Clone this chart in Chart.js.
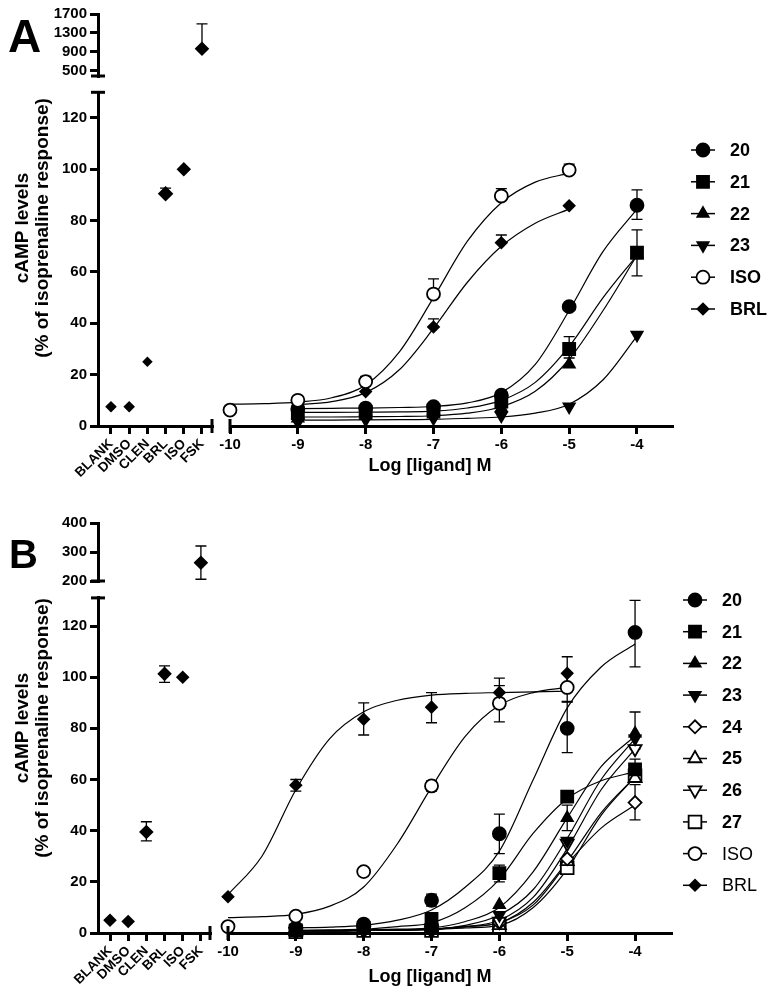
<!DOCTYPE html>
<html lang="en">
<head>
<meta charset="UTF-8">
<title>cAMP levels – compounds 20-27</title>
<script src="https://cdn.jsdelivr.net/npm/chart.js"></script>
<style>
    body { margin: 0; background: #fff; font-family: "Liberation Sans", Arial, sans-serif; }
    #wrap { position: relative; width: 772px; height: 1005px; overflow: hidden; }
    #wrap canvas { position: absolute; left: 0; top: 0; }
    .letter { position: absolute; font-weight: bold; line-height: 1; }
    .ytitle {
        position: absolute; font-weight: bold; font-size: 19px; line-height: 20px;
        text-align: center; white-space: nowrap;
        transform: translate(-50%, -50%) rotate(-90deg);
    }
    .xtitle { position: absolute; font-weight: bold; font-size: 18px; white-space: nowrap; transform: translateX(-50%); }
</style>
</head>
<body>
<div id="wrap">
    <canvas id="a1" width="772" height="1005"></canvas>
    <canvas id="a2" width="772" height="1005"></canvas>
    <canvas id="a3" width="772" height="1005"></canvas>
    <canvas id="b1" width="772" height="1005"></canvas>
    <canvas id="b2" width="772" height="1005"></canvas>
    <canvas id="b3" width="772" height="1005"></canvas>

    <div class="letter" style="left:8px;top:13px;font-size:46px">A</div>
    <div class="letter" style="left:9px;top:534px;font-size:40px">B</div>
    <div class="ytitle" style="left:32px;top:228px">cAMP levels<br>(% of isoprenaline response)</div>
    <div class="ytitle" style="left:32px;top:728px">cAMP levels<br>(% of isoprenaline response)</div>
    <div class="xtitle" style="left:430px;top:455px">Log [ligand] M</div>
    <div class="xtitle" style="left:430px;top:966px">Log [ligand] M</div>
</div>

<script>
// ---- shared axes ----
const catLabels = ['BLANK', 'DMSO', 'CLEN', 'BRL', 'ISO', 'FSK'];
const doses = [-10, -9, -8, -7, -6, -5, -4];
const curveX = [-10, -9.5, -9, -8.5, -8, -7.5, -7, -6.5, -6, -5.5, -5, -4.5, -4];
const lowerTicks = [0, 20, 40, 60, 80, 100, 120];

// ---- panel A ----
const aCtrl = [7.5, 7.5, 25, 90.5, 100, 970];
const aCtrlErr = [null, null, null, [90.5, 92.7], null, [970, 1490]];
const aUpperTicks = [500, 900, 1300, 1700];

const a20 = [null, 6.5, 7, 7.5, 12, 46.5, 86];
const a21 = [null, 5, 5.5, 6, 9.5, 30, 67.5];
const a22 = [null, 3, 4, 4.5, 7, 24, 67];
const a23 = [null, 1.5, 2.5, 3, 4, 7.5, 35.5];
const aIso = [6.2, 10, 17.3, 51.4, 89.6, 99.7, null];
const aBrl = [null, 8, 13.4, 38.6, 71.4, 85.8, null];

const a20Err = [null, null, null, null, null, null, [80.5, 92]];
const a21Err = [null, null, null, null, null, [26.5, 34.8], [58.5, 76.4]];
const aIsoErr = [null, null, [17.3, 19.3], [51.4, 57.3], [89.6, 92.5], [99.7, 102], null];
const aBrlErr = [null, null, null, [38.6, 41.7], [71.4, 74.4], null, null];

// fitted curves, read at curveX
const a20Fit = [null, null, 6.8, 6.9, 7, 7.2, 7.6, 9, 13, 24, 45, 68, 84.5];
const a21Fit = [null, null, 5.3, 5.3, 5.4, 5.5, 5.8, 7, 10, 17, 31, 50, 66.5];
const a22Fit = [null, null, 3.5, 3.5, 3.6, 3.7, 4, 5, 7.5, 13.5, 26, 45, 66.5];
const a23Fit = [null, null, 2.3, 2.3, 2.4, 2.5, 2.6, 3, 3.5, 5, 8.5, 18, 35];
const aIsoFit = [8.5, 8.7, 9.3, 11, 16, 29, 50, 72, 87, 95, 98.5, null, null];
const aBrlFit = [null, null, 8.3, 9.5, 13, 22, 38, 56, 70, 79, 84.5, null, null];

// ---- panel B ----
const bCtrl = [5, 4.5, 39.5, 101.3, 100, 263];
const bCtrlErr = [null, null, [36, 43.5], [98, 104.4], null, [206, 320.7]];
const bUpperTicks = [200, 300, 400];

const b20 = [null, 2, 3.5, 12.8, 38.8, 80, 117.5];
const b21 = [null, 1, 2, 5.5, 23.4, 53.3, 64];
const b22 = [null, 0.5, 1, 2, 11, 45, 78];
const b23 = [null, 0.5, 1, 1.5, 7, 36, 76];
const b24 = [null, 0.5, 1, 1, 4, 29, 51];
const b25 = [null, 0.5, 1, 1, 3, 28, 60.5];
const b26 = [null, 0.5, 1, 1, 4.5, 35, 72];
const b27 = [null, 0.5, 1, 1, 2.5, 25.5, 61.5];
const bIso = [2.5, 6.6, 24, 57.5, 89.8, 96, null];
const bBrl = [14.2, 57.8, 83.6, 88.3, 94, 101.5, null];

const b20Err = [null, null, null, [10.5, 15.2], [31, 46.5], [70.5, 90.3], [104, 130]];
const b21Err = [null, null, null, null, [20, 26.5], null, [60, 68]];
const b22Err = [null, null, null, null, null, [40, 50], [72, 86.4]];
const b24Err = [null, null, null, null, null, null, [44.2, 58]];
const bIsoErr = [null, null, null, [55.5, 59.5], [82.5, 96.7], [90.5, 101.5], null];
const bBrlErr = [null, [55.5, 60], [77.4, 90], [82.2, 94], [88, 99.6], [96, 108], null];

const b20Fit = [null, null, 2, 2.3, 3, 5, 9, 18, 32, 60, 88, 104, 113];
const b21Fit = [null, null, 1, 1.2, 1.5, 2.5, 4, 10, 21, 39, 52.5, 59.5, 63];
const b22Fit = [null, null, 1, 1, 1.2, 1.5, 2, 4.5, 10, 24, 45, 65, 77];
const b23Fit = [null, null, 0.8, 0.8, 1, 1.2, 1.5, 3, 7, 17, 37, 60, 76];
const b24Fit = [null, null, 0.8, 0.8, 1, 1.2, 1.5, 2.5, 4, 11, 27, 41, 50];
const b25Fit = [null, null, 0.8, 0.8, 1, 1.2, 1.5, 2.5, 4, 12, 28, 47, 61];
const b26Fit = [null, null, 0.8, 0.8, 1, 1.2, 1.5, 2.5, 5, 14, 33, 56, 72];
const b27Fit = [null, null, 0.8, 0.8, 1, 1, 1.3, 2, 3, 10, 25, 46, 61];
const bIsoFit = [6, 6.4, 7.3, 10.5, 18, 35, 57, 77, 89, 94, 96, null, null];
const bBrlFit = [15, 30, 56, 76, 86.5, 91, 93, 93.7, 94, 94.3, 94.5, null, null];

// ---- marker styles ----
const MARK = {
    '20':  { style: 'circle',   r: 6.5, fill: '#000' },
    '21':  { style: 'rect',     r: 8.5, fill: '#000' },
    '22':  { style: 'triangle', r: 6.5, fill: '#000' },
    '23':  { style: 'triangle', r: 6.5, fill: '#000', rot: 180 },
    '24':  { style: 'rectRot',  r: 6.5, fill: '#fff' },
    '25':  { style: 'triangle', r: 7.5, fill: '#fff' },
    '26':  { style: 'triangle', r: 7.5, fill: '#fff', rot: 180 },
    '27':  { style: 'rect',     r: 9,   fill: '#fff' },
    'ISO': { style: 'circle',   r: 6.5, fill: '#fff' },
    'BRL': { style: 'rectRot',  r: 5.5, fill: '#000' }
};
const aCtrlSize = [4.5, 4.5, 4, 6.5, 6, 6];
const bCtrlSize = [5.5, 5.5, 6, 6, 5.5, 6];

Chart.defaults.font.family = '"Liberation Sans", Arial, sans-serif';
Chart.defaults.font.weight = 'bold';
Chart.defaults.color = '#000';

const errorBars = {
    id: 'errorBars',
    beforeDatasetsDraw(chart) {
        const { ctx, scales: { x, y } } = chart;
        ctx.save();
        ctx.strokeStyle = '#000';
        ctx.lineWidth = 1.3;
        chart.data.datasets.forEach(ds => {
            ds.data.forEach(p => {
                if (!p.err) return;
                const px = x.getPixelForValue(p.x);
                const lo = y.getPixelForValue(p.err[0]);
                const hi = y.getPixelForValue(p.err[1]);
                ctx.beginPath();
                ctx.moveTo(px, lo); ctx.lineTo(px, hi);
                if (p.err[0] < p.y) { ctx.moveTo(px - 5.5, lo); ctx.lineTo(px + 5.5, lo); }
                if (p.err[1] > p.y) { ctx.moveTo(px - 5.5, hi); ctx.lineTo(px + 5.5, hi); }
                ctx.stroke();
            });
        });
        ctx.restore();
    }
};

function capsPlugin(list) {
    return {
        id: 'axisCaps',
        afterDraw(chart) {
            const ctx = chart.ctx, area = chart.chartArea;
            ctx.save();
            ctx.strokeStyle = '#000';
            ctx.lineWidth = 3;
            list.forEach(c => {
                const s = chart.scales[c.scale];
                ctx.beginPath();
                if (c.scale === 'y') {
                    const py = s.getPixelForValue(c.value);
                    ctx.moveTo(area.left - 7, py); ctx.lineTo(area.left + 7, py);
                } else {
                    const px = s.getPixelForValue(c.value);
                    ctx.moveTo(px, area.bottom - 7); ctx.lineTo(px, area.bottom + 7);
                }
                ctx.stroke();
            });
            ctx.restore();
        }
    };
}

function legendPlugin(names, mx, y0, dy, tx, normal) {
    return {
        id: 'seriesLegend',
        afterDraw(chart) {
            const ctx = chart.ctx;
            names.forEach((n, i) => {
                const yy = y0 + i * dy;
                const m = MARK[n];
                ctx.save();
                ctx.strokeStyle = '#000';
                ctx.lineWidth = 1.5;
                ctx.beginPath(); ctx.moveTo(mx - 12, yy); ctx.lineTo(mx + 12, yy); ctx.stroke();
                ctx.fillStyle = m.fill;
                ctx.lineWidth = 1.8;
                Chart.helpers.drawPoint(ctx, { pointStyle: m.style, radius: m.r, rotation: m.rot || 0, borderWidth: 1.8 }, mx, yy);
                ctx.fillStyle = '#000';
                ctx.font = (normal.includes(n) ? '' : 'bold ') + '18px "Liberation Sans", Arial, sans-serif';
                ctx.textBaseline = 'middle';
                ctx.fillText(n, tx, yy + 1);
                ctx.restore();
            });
        }
    };
}

function pointsDs(name, xs, values, errs, sizes) {
    const m = MARK[name];
    const pts = xs.map((x, i) => ({ x, y: values[i], err: errs ? errs[i] : null, r: sizes ? sizes[i] : m.r }))
                  .filter(p => p.y != null);
    return {
        data: pts,
        showLine: false,
        pointStyle: m.style,
        pointRadius: pts.map(p => p.r),
        pointRotation: m.rot || 0,
        pointBackgroundColor: m.fill,
        pointBorderColor: '#000',
        pointBorderWidth: 1.8,
        clip: false,
        order: 1
    };
}

function curveDs(values) {
    return {
        data: curveX.map((x, i) => ({ x, y: values[i] })).filter(p => p.y != null),
        showLine: true,
        pointRadius: 0,
        borderColor: '#000',
        borderWidth: 1.2,
        cubicInterpolationMode: 'monotone',
        fill: false,
        clip: false,
        order: 2
    };
}

const W = 772, H = 1005;

function axisLook(extra) {
    return Object.assign({
        type: 'linear',
        border: { display: true, width: 3, color: '#000' },
        grid: { drawOnChartArea: false, drawTicks: true, tickLength: 8, lineWidth: 3, tickColor: '#000', color: '#000' }
    }, extra);
}

function makeChart(id, area, xs, ys, datasets, plugins) {
    const yW = ys.display === false ? 0 : 60;
    const xH = xs.display === false ? 0 : xs.h;
    return new Chart(document.getElementById(id), {
        type: 'scatter',
        data: { datasets },
        options: {
            responsive: false,
            animation: false,
            events: [],
            layout: { padding: { left: area.left - yW, right: W - area.right, top: area.top, bottom: H - area.bottom - xH } },
            plugins: { legend: { display: false }, tooltip: { enabled: false } },
            scales: {
                x: axisLook({
                    display: xs.display !== false,
                    min: xs.min, max: xs.max,
                    afterBuildTicks: s => { s.ticks = (xs.ticks || []).map(v => ({ value: v })); },
                    afterFit: s => { s.height = xH; },
                    ticks: Object.assign({ font: { size: 15, weight: 'bold' }, padding: 2, autoSkip: false, callback: v => String(v) }, xs.tickOpts || {})
                }),
                y: axisLook({
                    display: ys.display !== false,
                    min: ys.min, max: ys.max,
                    afterBuildTicks: s => { s.ticks = (ys.ticks || []).map(v => ({ value: v })); },
                    afterFit: s => { s.width = yW; },
                    ticks: { font: { size: ys.font || 15, weight: 'bold' }, padding: 3, autoSkip: false, callback: v => String(v) }
                })
            }
        },
        plugins: [errorBars].concat(plugins || [])
    });
}

function ctrlSets(values, errs, sizes, lo, hi) {
    const xs = values.map((v, i) => i + 1);
    const ds = pointsDs('BRL', xs, values, errs, sizes);
    const keep = ds.data.map(p => p.y > lo && p.y <= hi);
    ds.data = ds.data.filter((p, i) => keep[i]);
    ds.pointRadius = ds.pointRadius.filter((r, i) => keep[i]);
    return [ds];
}

const catTickOpts = {
    font: { size: 13.5, weight: 'bold' },
    minRotation: 45, maxRotation: 45, padding: 2,
    callback: v => catLabels[v - 1]
};

// ---------- Panel A ----------
makeChart('a1', { left: 98, right: 212, top: 14, bottom: 76 },
    { display: false, min: 0.286, max: 6.55 },
    { min: 394, max: 1700, ticks: aUpperTicks, font: 15 },
    ctrlSets(aCtrl, aCtrlErr, aCtrlSize, 130, 1e9),
    [capsPlugin([{ scale: 'y', value: 394 }])]);

makeChart('a2', { left: 98, right: 212, top: 92.3, bottom: 426 },
    { min: 0.286, max: 6.55, ticks: [1, 2, 3, 4, 5, 6], h: 54, tickOpts: catTickOpts },
    { min: 0, max: 130, ticks: lowerTicks },
    ctrlSets(aCtrl, aCtrlErr, aCtrlSize, -1, 130),
    [capsPlugin([{ scale: 'y', value: 130 }, { scale: 'x', value: 6.55 }])]);

// points listed top-most first (Chart.js paints later datasets underneath)
makeChart('a3', { left: 230, right: 672, top: 92.3, bottom: 426 },
    { min: -10, max: -3.484, ticks: doses, h: 40 },
    { display: false, min: 0, max: 130 },
    [
        pointsDs('ISO', doses, aIso, aIsoErr), pointsDs('BRL', doses, aBrl, aBrlErr),
        pointsDs('20', doses, a20, a20Err), pointsDs('21', doses, a21, a21Err),
        pointsDs('22', doses, a22, null), pointsDs('23', doses, a23, null),
        curveDs(a20Fit), curveDs(a21Fit), curveDs(a22Fit), curveDs(a23Fit), curveDs(aIsoFit), curveDs(aBrlFit)
    ],
    [capsPlugin([{ scale: 'x', value: -10 }]),
     legendPlugin(['20', '21', '22', '23', 'ISO', 'BRL'], 703, 150, 31.8, 730, [])]);

// ---------- Panel B ----------
makeChart('b1', { left: 98, right: 210, top: 523, bottom: 581 },
    { display: false, min: 0.34, max: 6.5 },
    { min: 200, max: 400, ticks: bUpperTicks, font: 15 },
    ctrlSets(bCtrl, bCtrlErr, bCtrlSize, 131, 1e9),
    [capsPlugin([{ scale: 'y', value: 200 }])]);

makeChart('b2', { left: 98, right: 210, top: 597.9, bottom: 933 },
    { min: 0.34, max: 6.5, ticks: [1, 2, 3, 4, 5, 6], h: 54, tickOpts: catTickOpts },
    { min: 0, max: 131, ticks: lowerTicks },
    ctrlSets(bCtrl, bCtrlErr, bCtrlSize, -1, 131),
    [capsPlugin([{ scale: 'y', value: 131 }, { scale: 'x', value: 6.5 }])]);

makeChart('b3', { left: 228, right: 671, top: 597.9, bottom: 933 },
    { min: -10, max: -3.47, ticks: doses, h: 40 },
    { display: false, min: 0, max: 131 },
    [
        pointsDs('BRL', doses, bBrl, bBrlErr), pointsDs('ISO', doses, bIso, bIsoErr),
        pointsDs('20', doses, b20, b20Err), pointsDs('21', doses, b21, b21Err),
        pointsDs('22', doses, b22, b22Err), pointsDs('23', doses, b23, null),
        pointsDs('26', doses, b26, null), pointsDs('24', doses, b24, b24Err),
        pointsDs('25', doses, b25, null), pointsDs('27', doses, b27, null),
        curveDs(b20Fit), curveDs(b21Fit), curveDs(b22Fit), curveDs(b23Fit), curveDs(b24Fit),
        curveDs(b25Fit), curveDs(b26Fit), curveDs(b27Fit), curveDs(bIsoFit), curveDs(bBrlFit)
    ],
    [capsPlugin([{ scale: 'x', value: -10 }]),
     legendPlugin(['20', '21', '22', '23', '24', '25', '26', '27', 'ISO', 'BRL'], 695, 600, 31.7, 722, ['ISO', 'BRL'])]);
</script>
</body>
</html>
